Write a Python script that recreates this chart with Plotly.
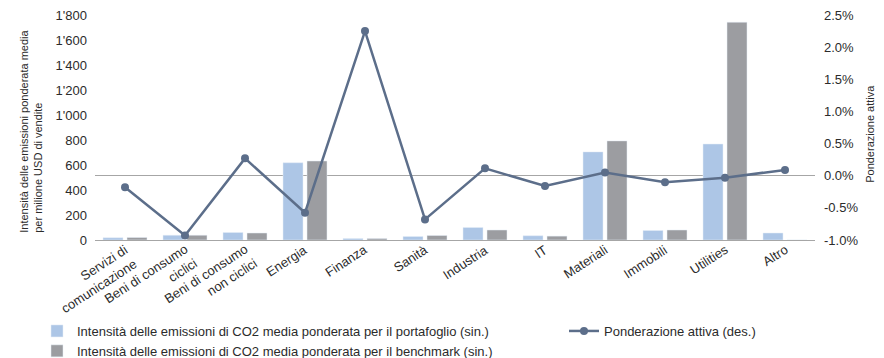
import math
import plotly.graph_objects as go

# Sector categories (multi-line labels use <br>)
categories = [
    "Servizi di<br>comunicazione", "Beni di consumo<br>ciclici", "Beni di consumo<br>non ciclici",
    "Energia", "Finanza", "Sanità", "Industria", "IT", "Materiali", "Immobili", "Utilities", "Altro",
]

# Weighted average CO2 emission intensity (left axis)
portfolio = [18, 38, 60, 618, 12, 28, 100, 34, 705, 76, 768, 56]
benchmark = [20, 38, 56, 632, 12, 36, 80, 31, 793, 80, 1742, 0]

# Active weight in % (right axis)
active_weight = [-0.18, -0.93, 0.27, -0.575, 2.25, -0.68, 0.115, -0.16, 0.05, -0.10, -0.03, 0.09]

# Axis ticks
left_tickvals = [0, 200, 400, 600, 800, 1000, 1200, 1400, 1600, 1800]
left_ticktext = ["0", "200", "400", "600", "800", "1'000", "1'200", "1'400", "1'600", "1'800"]
right_tickvals = [-1.0, -0.5, 0.0, 0.5, 1.0, 1.5, 2.0, 2.5]
right_ticktext = ["-1.0%", "-0.5%", "0.0%", "0.5%", "1.0%", "1.5%", "2.0%", "2.5%"]

name_pf = "Intensità delle emissioni di CO2 media ponderata per il portafoglio (sin.)"
name_bm = "Intensità delle emissioni di CO2 media ponderata per il benchmark (sin.)"
name_aw = "Ponderazione attiva (des.)"

FONT = "Liberation Sans, Arial, sans-serif"
TXT = "#2b2b2b"
GRID = "#a6a6a6"

fig = go.Figure()
fig.add_trace(go.Bar(x=categories, y=portfolio, name=name_pf, marker_color="#adc6e6",
                     legend="legend"))
fig.add_trace(go.Bar(x=categories, y=benchmark, name=name_bm, marker_color="#9c9da1",
                     legend="legend"))
fig.add_trace(go.Scatter(x=categories, y=active_weight, name=name_aw, yaxis="y2",
                         mode="lines+markers",
                         line=dict(color="#5c6e8a", width=2.5),
                         marker=dict(color="#5c6e8a", size=8),
                         legend="legend2"))

# Rotated category labels, lines right-aligned, text end just under each category
ang = 33
for c in categories:
    n = c.count("<br>") + 1
    h = n * 13 * 1.3 + 4
    fig.add_annotation(x=c, xref="x", y=0.004, yref="paper", text=c, showarrow=False,
                       textangle=-ang, xanchor="right", yanchor="top", align="right",
                       xshift=-3 + h * math.sin(math.radians(ang)),
                       font=dict(family=FONT, size=13, color=TXT))

# Axis titles
fig.add_annotation(x=-0.09, xref="paper", y=0.022, yref="paper",
                   text="Intensità delle emissioni ponderata media<br>per milione USD di vendite",
                   textangle=-90, align="left", xanchor="center", yanchor="bottom",
                   showarrow=False, font=dict(family=FONT, size=11, color=TXT))
fig.add_annotation(x=1.076, xref="paper", y=0.244, yref="paper",
                   text="Ponderazione attiva", textangle=-90, align="left",
                   xanchor="center", yanchor="bottom",
                   showarrow=False, font=dict(family=FONT, size=11, color=TXT))

fig.update_layout(
    width=884, height=358,
    margin=dict(l=95, r=69, t=15, b=118, autoexpand=False),
    paper_bgcolor="white", plot_bgcolor="white",
    font=dict(family=FONT, size=13, color=TXT),
    barmode="group", bargap=0.2, bargroupgap=0.167,
    xaxis=dict(showticklabels=False, showline=True, linecolor=GRID, linewidth=1,
               range=[-0.5, len(categories) - 0.5], autorange=False,
               ticks="", showgrid=False, zeroline=False, automargin=False),
    yaxis=dict(range=[0, 1800], tickvals=left_tickvals, ticktext=left_ticktext,
               showgrid=False, zeroline=False, showline=False, ticks="",
               ticklabelstandoff=7, tickfont=dict(size=13), automargin=False),
    yaxis2=dict(range=[-1.0, 2.5], tickvals=right_tickvals, ticktext=right_ticktext,
                overlaying="y", side="right", showgrid=False, zeroline=True,
                zerolinecolor=GRID, zerolinewidth=1, showline=False, ticks="",
                ticklabelstandoff=8, tickfont=dict(size=13), automargin=False),
    legend=dict(orientation="v", xref="container", yref="container",
                x=37 / 884, y=1 - 316 / 358, xanchor="left", yanchor="top",
                bgcolor="rgba(0,0,0,0)", tracegroupgap=0, font=dict(size=13)),
    legend2=dict(orientation="v", xref="container", yref="container",
                 x=564 / 884, y=1 - 316 / 358, xanchor="left", yanchor="top",
                 bgcolor="rgba(0,0,0,0)", font=dict(size=13)),
)

fig.write_html("out.html")
